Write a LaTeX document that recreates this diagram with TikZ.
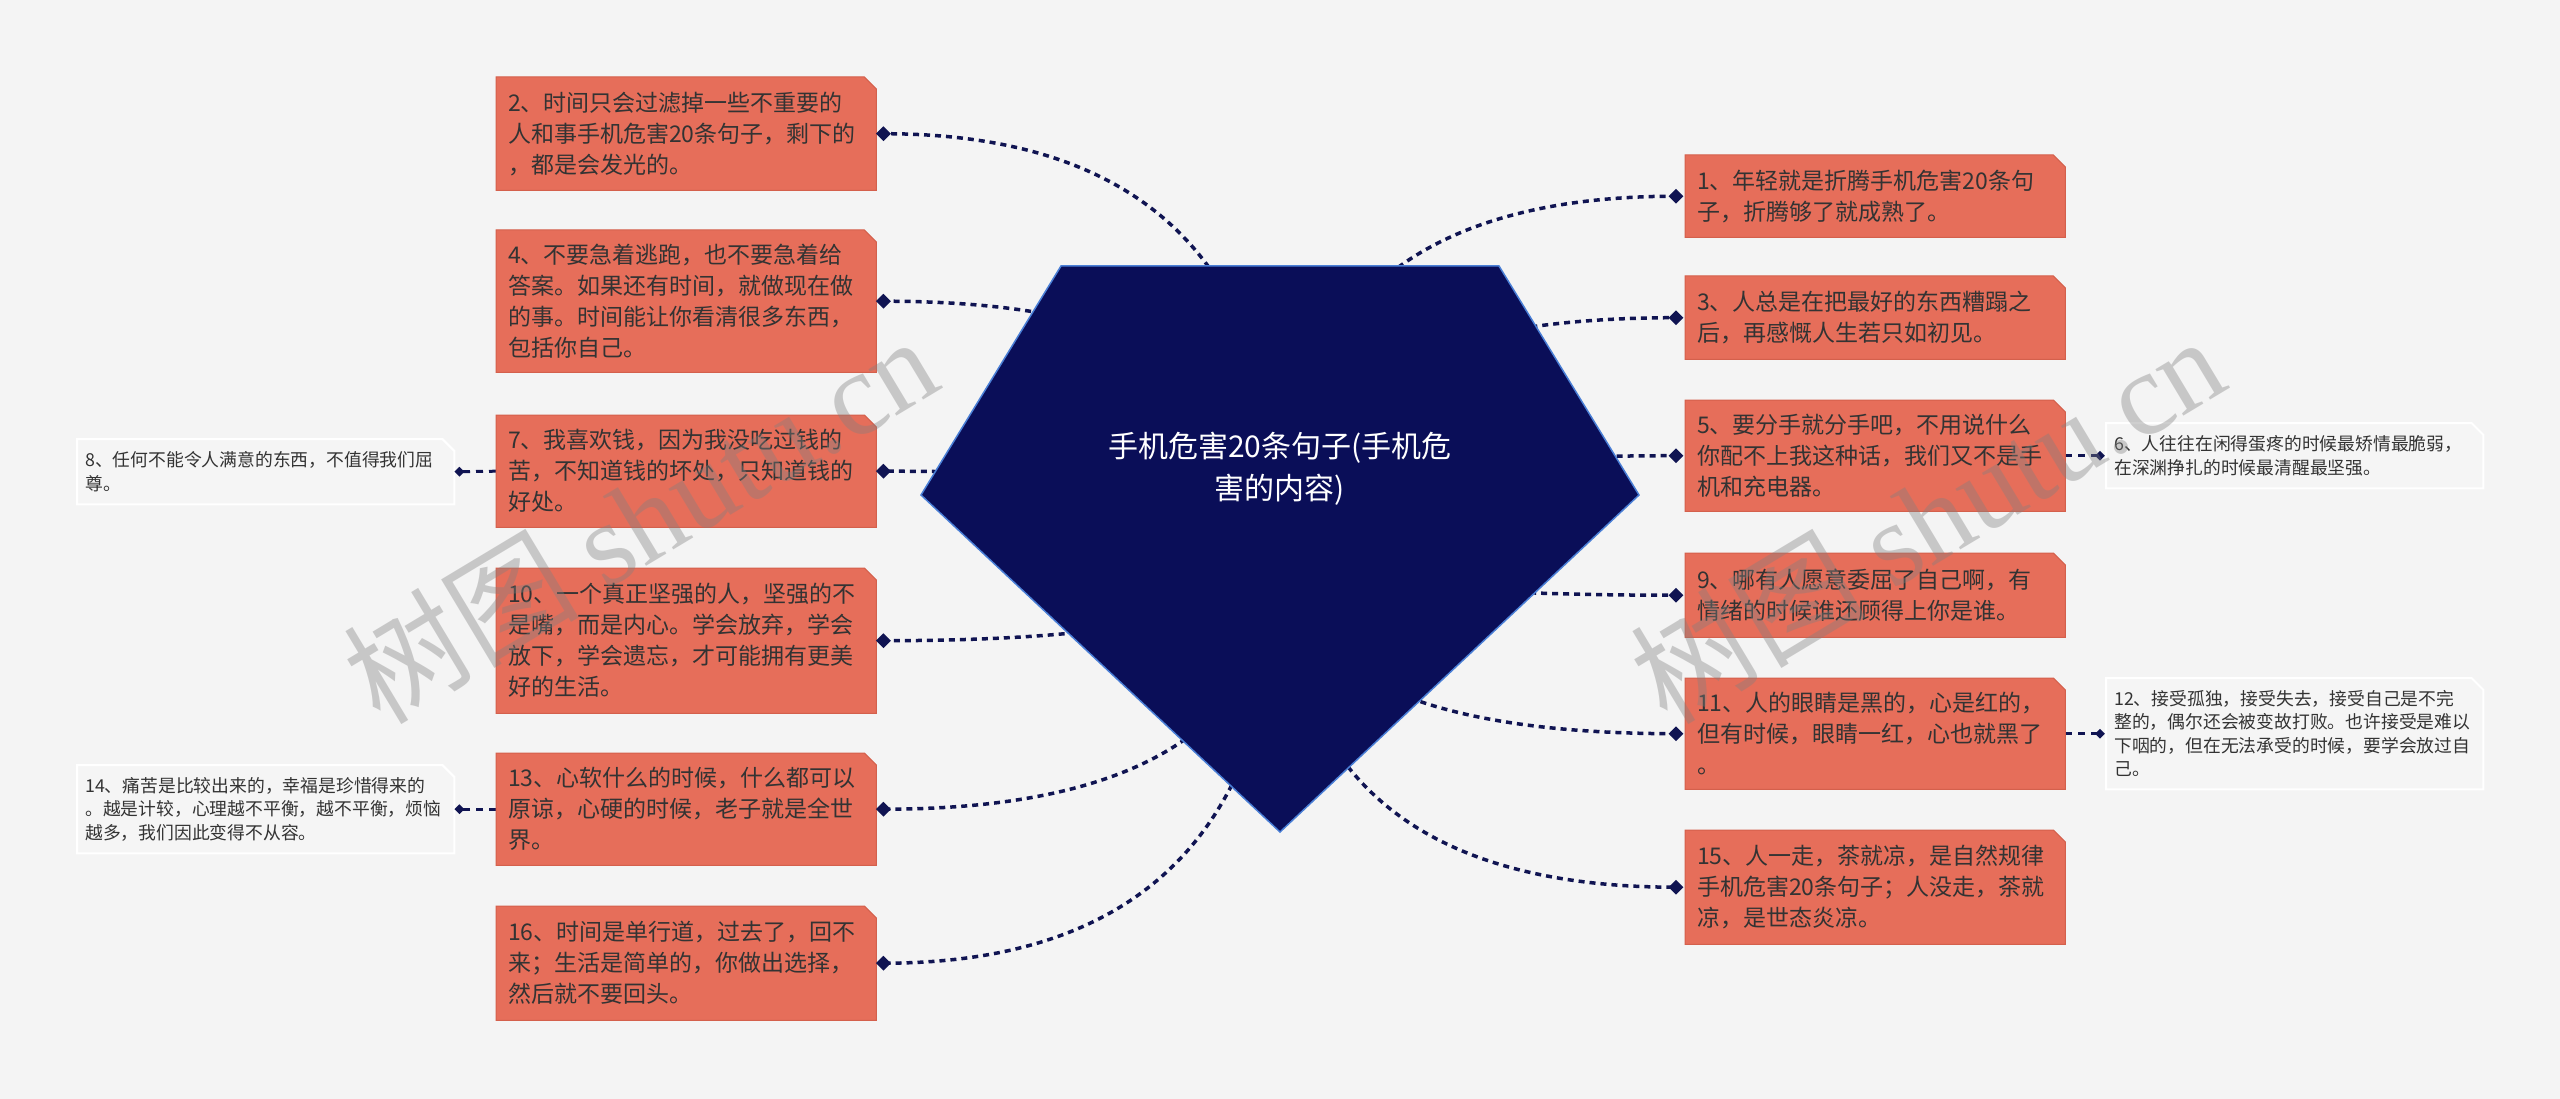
\documentclass[tikz,border=0pt]{standalone}
\usepackage{fontspec}
\setmainfont{Noto Sans CJK SC}
\newfontfamily\wmlat{Liberation Serif}
\usetikzlibrary{calc,shapes.geometric}
\pgfdeclarelayer{back}
\pgfdeclarelayer{links}
\pgfdeclarelayer{fills}
\pgfdeclarelayer{front}
\pgfsetlayers{back,links,fills,main,front}
\definecolor{bgc}{HTML}{F4F4F4}
\definecolor{ofill}{HTML}{E66E5A}
\definecolor{oline}{HTML}{D4604C}
\definecolor{lfill}{HTML}{F5F5F5}
\definecolor{txt}{HTML}{333333}
\definecolor{navy}{HTML}{0A0E58}
\definecolor{navyline}{HTML}{4A7FD6}
\definecolor{lnk}{HTML}{101452}
\definecolor{wmgray}{HTML}{808080}
\tikzset{
  obox/.style={inner xsep=12pt, inner ysep=0pt, align=left, text=txt,
    font=\fontsize{23pt}{31pt}\selectfont, text width=356pt},
  obox fill/.style={fill=ofill, draw=oline, line width=1pt},
  lbox/.style={inner xsep=8pt, inner ysep=0pt, align=left, text=txt,
    font=\fontsize{17.8pt}{23.5pt}\selectfont, text width=361pt},
  lbox fill/.style={fill=lfill, draw=white, line width=2pt},
  dmd/.style={diamond, fill=lnk, minimum width=15pt, minimum height=15pt, inner sep=0pt},
  sdmd/.style={diamond, fill=lnk, minimum width=10pt, minimum height=10pt, inner sep=0pt},
  mainlink/.style={draw=lnk, line width=3.5pt, dash pattern=on 6pt off 5pt},
  sublink/.style={draw=lnk, line width=3pt, dash pattern=on 7pt off 6pt},
  wm/.style={font=\fontsize{118pt}{118pt}\selectfont, text=wmgray, opacity=0.38, inner sep=0pt}
}
\newcommand\ybox[6]{%
  \node[#1, minimum height=#5pt, anchor=north west] (#2) at (#3,#4) {#6};
  \begin{pgfonlayer}{fills}
    \path[#1 fill] (#2.south west) -- (#2.north west) -- ([xshift=-12pt]#2.north east)
      -- ([yshift=-12pt]#2.north east) -- (#2.south east) -- cycle;
  \end{pgfonlayer}
}
\begin{document}
\begin{tikzpicture}[x=1pt, y=-1pt]
\useasboundingbox (0,0) rectangle (2560,1099);
\begin{pgfonlayer}{back}
  \fill[bgc] (0,0) rectangle (2560,1099);
\end{pgfonlayer}

% central pentagon
\filldraw[fill=navy, draw=navyline, line width=1.5pt]
  (1061,266) -- (1499,266) -- (1639,495) -- (1280,832) -- (921,495) -- cycle;
\coordinate (c) at (1281,539);
\node[font=\fontsize{30pt}{42pt}\selectfont, text=white, align=center] (root) at (1280,469)
  {手机危害20条句子(手机危\\害的内容)};

% left boxes
\ybox{obox}{b2}{496}{77}{113}{2、时间只会过滤掉一些不重要的\\人和事手机危害20条句子，剩下的\\，都是会发光的。}
\ybox{obox}{b4}{496}{230}{142}{4、不要急着逃跑，也不要急着给\\答案。如果还有时间，就做现在做\\的事。时间能让你看清很多东西，\\包括你自己。}
\ybox{obox}{b7}{496}{415}{112}{7、我喜欢钱，因为我没吃过钱的\\苦，不知道钱的坏处，只知道钱的\\好处。}
\ybox{obox}{b10}{496}{568}{145}{10、一个真正坚强的人，坚强的不\\是嘴，而是内心。学会放弃，学会\\放下，学会遗忘，才可能拥有更美\\好的生活。}
\ybox{obox}{b13}{496}{753}{112}{13、心软什么的时候，什么都可以\\原谅，心硬的时候，老子就是全世\\界。}
\ybox{obox}{b16}{496}{906}{114}{16、时间是单行道，过去了，回不\\来；生活是简单的，你做出选择，\\然后就不要回头。}

% right boxes
\ybox{obox}{b1}{1685}{155}{82}{1、年轻就是折腾手机危害20条句\\子，折腾够了就成熟了。}
\ybox{obox}{b3}{1685}{276}{83}{3、人总是在把最好的东西糟蹋之\\后，再感慨人生若只如初见。}
\ybox{obox}{b5}{1685}{400}{111}{5、要分手就分手吧，不用说什么\\你配不上我这种话，我们又不是手\\机和充电器。}
\ybox{obox}{b9}{1685}{553}{84}{9、哪有人愿意委屈了自己啊，有\\情绪的时候谁还顾得上你是谁。}
\ybox{obox}{b11}{1685}{678}{111}{11、人的眼睛是黑的，心是红的，\\但有时候，眼睛一红，心也就黑了\\。}
\ybox{obox}{b15}{1685}{830}{114}{15、人一走，茶就凉，是自然规律\\手机危害20条句子；人没走，茶就\\凉，是世态炎凉。}

% outer light boxes
\ybox{lbox}{b8}{77}{439}{65}{8、任何不能令人满意的东西，不值得我们屈\\尊。}
\ybox{lbox}{b14}{77}{765}{88}{14、痛苦是比较出来的，幸福是珍惜得来的\\。越是计较，心理越不平衡，越不平衡，烦恼\\越多，我们因此变得不从容。}
\ybox{lbox}{b6}{2106}{423}{65}{6、人往往在闲得蛋疼的时候最矫情最脆弱，\\在深渊挣扎的时候最清醒最坚强。}
\ybox{lbox}{b12}{2106}{678}{111}{12、接受孤独，接受失去，接受自己是不完\\整的，偶尔还会被变故打败。也许接受是难以\\下咽的，但在无法承受的时候，要学会放过自\\己。}

% diamonds
\foreach \b in {2,4,7,10,13,16}
  \node[dmd] (d\b) at ([xshift=7pt]b\b.east) {};
\foreach \b in {1,3,5,9,11,15}
  \node[dmd] (d\b) at ([xshift=-9pt]b\b.west) {};
\node[sdmd] (d8) at ([xshift=5pt]b8.east) {};
\node[sdmd] (d14) at ([xshift=5pt]b14.east) {};
\node[sdmd] (d6) at ([xshift=-6pt]b6.west) {};
\node[sdmd] (d12) at ([xshift=-6pt]b12.west) {};

% connectors
\begin{pgfonlayer}{links}
  \foreach \d in {d2,d4,d7,d10,d13,d16,d1,d3,d5,d9,d11,d15}
    \draw[mainlink] (c) .. controls ($(c)!2/3!(c|-\d.center)$) and ($(\d.center)!2/3!(c|-\d.center)$) .. (\d.center);
  \draw[sublink] (b7.west) -- (d8.center);
  \draw[sublink] (b13.west) -- (d14.center);
  \draw[sublink] (b5.east) -- (d6.center);
  \draw[sublink] (b11.east) -- (d12.center);
\end{pgfonlayer}

% watermarks
\begin{pgfonlayer}{front}
  \node[wm, rotate=31] (wm1) at (640,518) {树图 {\wmlat shutu.cn}};
  \node[wm, rotate=31] (wm2) at (1927,518) {树图 {\wmlat shutu.cn}};
\end{pgfonlayer}
\end{tikzpicture}
\end{document}
